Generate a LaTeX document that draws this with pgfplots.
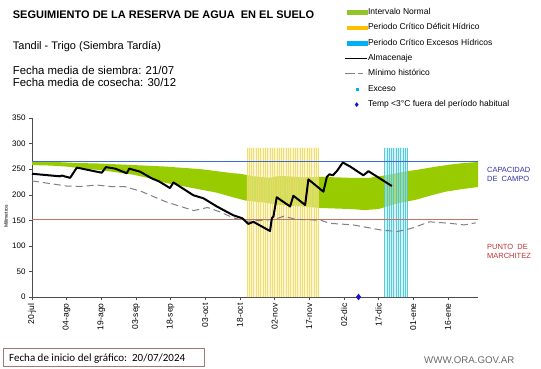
\documentclass[border=0pt]{standalone}
\usepackage{pgfplots}
\pgfplotsset{compat=1.18}
\usepgfplotslibrary{fillbetween}
\usepackage{fontspec}
\setmainfont{Liberation Sans}
\newfontfamily\calibri{Carlito}

\definecolor{bandgreen}{RGB}{153,204,0}
\definecolor{yel}{RGB}{238,218,100}
\definecolor{yellight}{RGB}{250,240,170}
\definecolor{cyanD}{RGB}{70,195,215}
\definecolor{cyanL}{RGB}{175,232,242}
\definecolor{ccblue}{RGB}{60,105,215}
\definecolor{pmred}{RGB}{195,115,105}
\definecolor{legyel}{RGB}{255,192,0}
\definecolor{legcyan}{RGB}{0,176,240}
\definecolor{leggreen}{RGB}{146,195,40}
\definecolor{cclabel}{RGB}{50,50,170}
\definecolor{pmlabel}{RGB}{190,50,50}
\definecolor{boxcol}{RGB}{160,120,120}
\definecolor{webgray}{RGB}{105,105,105}
\definecolor{diamblue}{RGB}{20,20,200}

\begin{document}
\begin{tikzpicture}
\begin{axis}[
  at={(32pt,71pt)}, anchor=south west,
  scale only axis, width=446pt, height=179pt,
  xmin=0, xmax=193, ymin=0, ymax=350,
  axis x line*=bottom, axis y line*=left,
  axis line style={-, draw=black!70},
  tick align=outside, tick style={black!70, thin},
  major tick length=3pt,
  xtick={0,15,...,180},
  xticklabels={20-jul,04-ago,19-ago,03-sep,18-sep,03-oct,18-oct,02-nov,17-nov,02-dic,17-dic,01-ene,16-ene},
  x tick label style={rotate=90, anchor=east, font=\fontsize{8.5}{9}\selectfont},
  ytick={0,50,...,350},
  y tick label style={font=\fontsize{8}{9}\selectfont},
  /pgf/number format/assume math mode=true,
  ylabel={Milímetros},
  ylabel style={at={(axis description cs:-0.058,0.45)}, anchor=center, font=\fontsize{5}{6}\selectfont},
  clip=false,
  legend cell align=left,
  legend style={at={(axis description cs:0.699,1.615)}, anchor=north west, draw=none, fill=none,
    inner sep=0pt, font=\fontsize{8.5}{9}\selectfont, row sep=7.2pt,
    nodes={inner sep=0.6pt, text height=5.5pt, text depth=1.5pt}},
]
% legend
\addlegendimage{legend image code/.code={\fill[leggreen] (0pt,-1.7pt) rectangle (20pt,1.7pt);}}
\addlegendentry{Intervalo Normal}
\addlegendimage{legend image code/.code={\fill[legyel] (0pt,-1.7pt) rectangle (20pt,1.7pt);}}
\addlegendentry{Periodo Crítico Déficit Hídrico}
\addlegendimage{legend image code/.code={\fill[legcyan] (0pt,-1.7pt) rectangle (20pt,1.7pt);}}
\addlegendentry{Periodo Crítico Excesos Hídricos}
\addlegendimage{legend image code/.code={\draw[black, line width=1.5pt] (-2pt,0pt) -- (20pt,0pt);}}
\addlegendentry{Almacenaje}
\addlegendimage{legend image code/.code={\draw[gray, line width=1pt, dash pattern=on 10pt off 3pt on 5pt off 10pt] (-2pt,0pt) -- (20pt,0pt);}}
\addlegendentry{Mínimo histórico}
\addlegendimage{legend image code/.code={\fill[legcyan] (9pt,-1pt) rectangle (11pt,1pt);}}
\addlegendentry{Exceso}
\addlegendimage{legend image code/.code={\fill[diamblue] (10pt,2pt) -- (11.6pt,0pt) -- (10pt,-2pt) -- (8.4pt,0pt) -- cycle;}}
\addlegendentry{Temp <3°C fuera del período habitual}

% green band
\addplot[name path=up, draw=none, forget plot] coordinates {
(0,265) (10,264) (20,262) (29,261) (44,258) (58,255) (73,250) (87,242) (90,241) (96,236) (103,233) (107,237) (117,234) (125,235) (138,233) (146,233) (153,238) (161,245) (167,249) (175,255) (181,259) (187,262) (193,264)};
\addplot[name path=lo, draw=none, forget plot] coordinates {
(0,258) (8,257) (15,255) (22,251) (30,248) (44,239) (51,232) (58,223) (65,217) (73,210) (80,204) (87,195) (93,188) (100,185) (107,180) (117,177) (125,174) (138,172) (144,170) (150,172) (158,183) (166,190) (173,199) (179,206) (186,211) (193,215)};
\addplot[bandgreen, forget plot] fill between[of=up and lo];

% critical periods
\addplot[fill=yellight, draw=none, opacity=0.55, const plot, forget plot] coordinates {(93,292) (124,292)} \closedcycle;
\addplot[ycomb, yel, line width=0.8pt, opacity=0.85, forget plot] coordinates {
(93,292) (94,292) (95,292) (96,292) (97,292) (98,292) (99,292) (100,292) (101,292) (102,292) (103,292) (104,292) (105,292) (106,292) (107,292) (108,292) (109,292) (110,292) (111,292) (112,292) (113,292) (114,292) (115,292) (116,292) (117,292) (118,292) (119,292) (120,292) (121,292) (122,292) (123,292) (124,292)};
\addplot[fill=cyanL, draw=none, opacity=0.55, const plot, forget plot] coordinates {(152.5,292) (162.6,292)} \closedcycle;
\addplot[ycomb, cyanD, line width=0.8pt, opacity=0.85, forget plot] coordinates {
(152.6,292) (153.6,292) (154.6,292) (155.6,292) (156.6,292) (157.6,292) (158.6,292) (159.6,292) (160.6,292) (161.6,292) (162.5,292)};

% reference lines
\addplot[ccblue, line width=0.8pt, forget plot] coordinates {(0,265) (193,265)};
\addplot[pmred, line width=0.8pt, forget plot] coordinates {(0,151) (193,151)};

% minimo historico
\addplot[gray, line width=1pt, dash pattern=on 7pt off 4pt, forget plot] coordinates {
(0,227) (15,217) (21,216) (28,219) (34,216) (40,216) (47,207) (58,186) (70,169) (76,175) (81,167) (87,155) (93,148) (100,150) (105,152) (109,158) (114,152) (125,150) (129,144) (139,141) (151,131) (158,128) (164,134) (172,147) (181,144) (187,141) (192,145)};

% almacenaje
\addplot[black, line width=2pt, line join=round, forget plot] coordinates {
(0,241) (12,236) (13,237.5) (14,236) (16.5,233) (19.4,253) (30.2,243) (32,254) (36,251) (41,242) (42.1,251) (46.8,245) (51.8,232) (55,226) (59.7,213) (61.2,224) (65,213) (69.8,199) (74.2,193) (80,177) (87,160) (91,154) (93.6,143) (95.8,147) (103,129) (103.8,154) (104.5,158) (105.9,195) (111.7,177) (113.1,198) (118.2,180) (119.6,230) (126.1,206) (127.6,235) (128.7,240) (130.2,238) (131.9,246) (134.5,263) (137.7,255) (143.4,238) (145.6,246) (155.7,217)};

% temp marker
\addplot[only marks, mark=diamond*, mark size=3pt, color=diamblue, forget plot] coordinates {(141.3,0)};

\node[anchor=west, align=left, font=\fontsize{7.5}{9}\selectfont, text=cclabel, inner sep=0pt] at (axis description cs:1.02,0.685) {CAPACIDAD\\DE\ \ CAMPO};
\node[anchor=west, align=left, font=\fontsize{7.5}{9}\selectfont, text=pmlabel, inner sep=0pt] at (axis description cs:1.02,0.257) {PUNTO\ \ DE\\MARCHITEZ};
\end{axis}

\node[anchor=base west, font=\bfseries\fontsize{11}{13}\selectfont, inner sep=0pt] at (12.7pt,349pt) {SEGUIMIENTO DE LA RESERVA DE AGUA\ \ EN EL SUELO};
\node[anchor=base west, font=\fontsize{11}{13}\selectfont, inner sep=0pt] at (12.7pt,318.5pt) {Tandil - Trigo (Siembra Tardía)};
\node[anchor=base west, font=\fontsize{11.4}{13}\selectfont, inner sep=0pt] at (12.7pt,294pt) {Fecha media de siembra: 21/07};
\node[anchor=base west, font=\fontsize{11.4}{13}\selectfont, inner sep=0pt] at (12.7pt,282pt) {Fecha media de cosecha: 30/12};

\draw[boxcol, line width=0.8pt] (3.5pt,1.5pt) rectangle (204pt,20pt);
\node[anchor=base west, font=\calibri\fontsize{11}{13}\selectfont, inner sep=0pt] at (9pt,7pt) {Fecha de inicio del gráfico:\ \ 20/07/2024};
\node[anchor=base west, font=\fontsize{9.7}{11}\selectfont, text=webgray, inner sep=0pt] at (424pt,4.7pt) {WWW.ORA.GOV.AR};
\pgfresetboundingbox
\path[use as bounding box] (0pt,0pt) rectangle (541pt,368pt);
\end{tikzpicture}
\end{document}
